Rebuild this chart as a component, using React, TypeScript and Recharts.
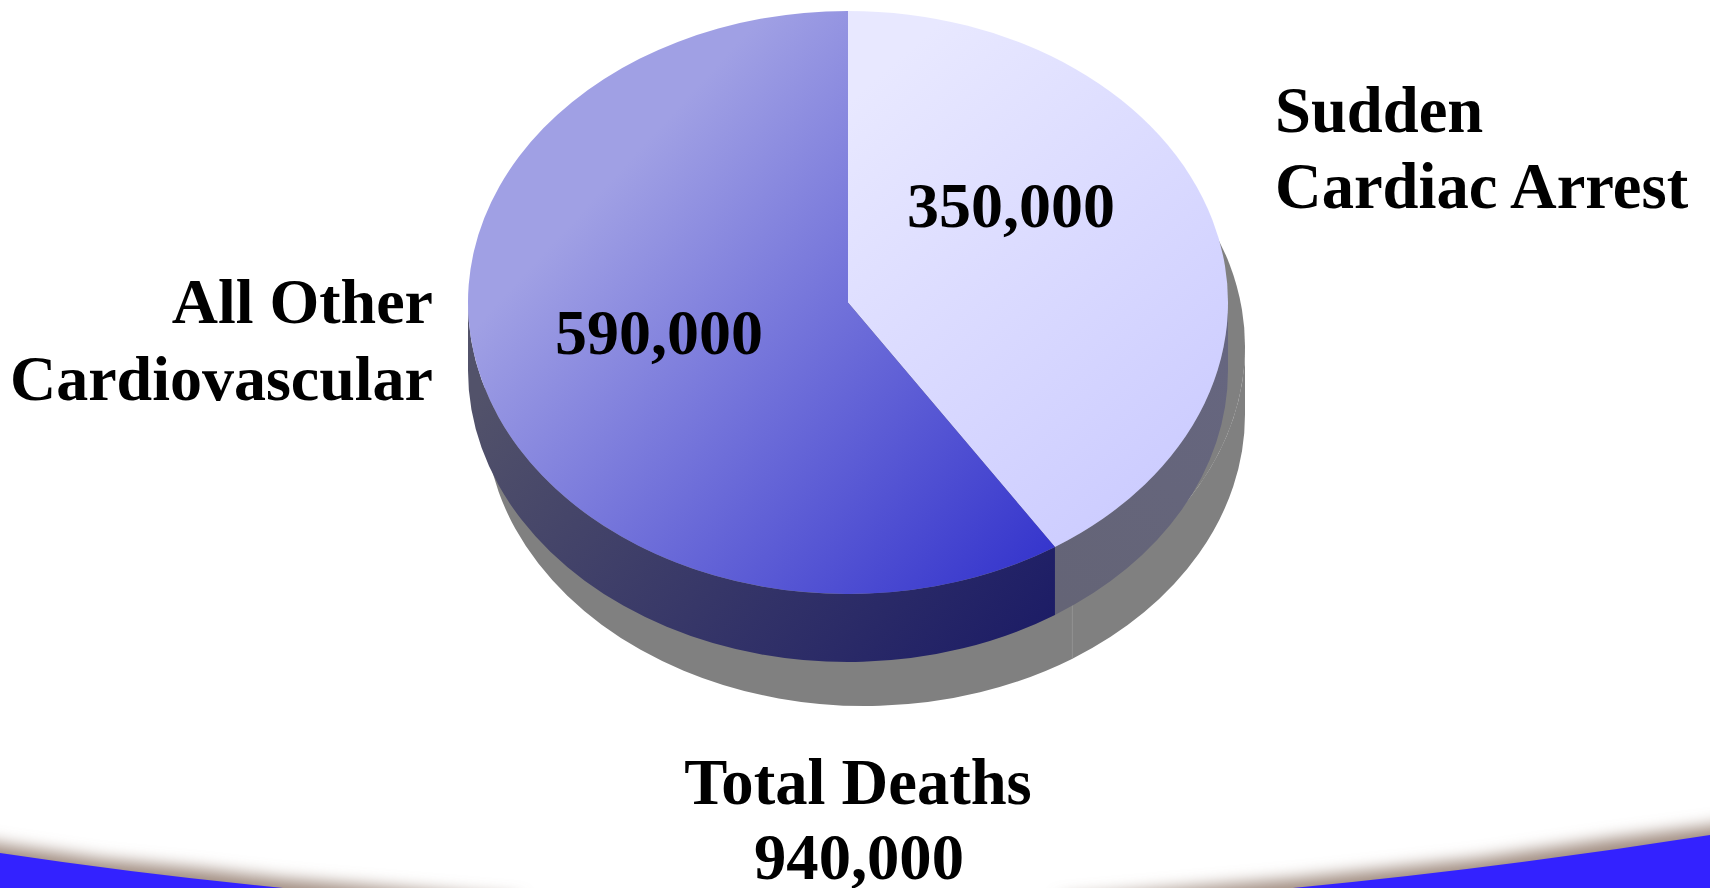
import { PieChart, Pie } from "recharts";

// what the labels say
const categories = ["Sudden Cardiac Arrest", "All Other Cardiovascular"];
const deaths = [350000, 590000];
const totalDeaths = 940000;
const sliceSweep = [147, 213];

const chartData = categories.map((name, i) => ({
  name,
  deaths: deaths[i],
  sweep: sliceSweep[i],
}));

const RX = 380;
const RY = 291.5;
const DEPTH = 68;
const SHADOW_X = 17;
const SHADOW_Y = 44;

const topFills = ["url(#topLight)", "url(#topBlue)"];
const wallFills = ["url(#wallLight)", "url(#wallBlue)"];

const fmt = (v: number) => v.toLocaleString("en-US");

function pt(cx: number, cy: number, a: number) {
  const r = (-a * Math.PI) / 180;
  return [cx + RX * Math.cos(r), cy + RY * Math.sin(r)];
}

function topPath(cx: number, cy: number, a1: number, a2: number) {
  const [x1, y1] = pt(cx, cy, a1);
  const [x2, y2] = pt(cx, cy, a2);
  const large = Math.abs(a1 - a2) > 180 ? 1 : 0;
  return `M${cx},${cy}L${x1},${y1}A${RX},${RY} 0 ${large} 1 ${x2},${y2}Z`;
}

// band under the rim, only the front half of the disc shows
function wallPath(cx: number, cy: number, a1: number, a2: number) {
  const s = Math.min(a1, 0);
  const e = Math.max(a2, -180);
  const [x1, y1] = pt(cx, cy, s);
  const [x2, y2] = pt(cx, cy, e);
  return `M${x1},${y1}A${RX},${RY} 0 0 1 ${x2},${y2}L${x2},${y2 + DEPTH}A${RX},${RY} 0 0 0 ${x1},${y1 + DEPTH}Z`;
}

function TopSlice(p: any) {
  return <path d={topPath(p.cx, p.cy, p.startAngle, p.endAngle)} fill={topFills[p.index]} />;
}

function WallSlice(p: any) {
  return <path d={wallPath(p.cx, p.cy, p.startAngle, p.endAngle)} fill={wallFills[p.index]} />;
}

function ShadowSlice(p: any) {
  const cx = p.cx + SHADOW_X;
  const cy = p.cy + SHADOW_Y;
  const [sx, sy] = pt(cx, cy, p.endAngle);
  return (
    <g>
      <path d={topPath(cx, cy, p.startAngle, p.endAngle)} fill="#808080" />
      <path d={wallPath(cx, cy, p.startAngle, p.endAngle)} fill="#808080" />
      {p.index === 0 && <line x1={sx} y1={sy} x2={sx} y2={sy + DEPTH} stroke="#a0a0a0" strokeWidth={1} />}
    </g>
  );
}

const textStyle = { fontFamily: "Liberation Serif", fontWeight: 700, fontSize: 64.6, fill: "#000" };

export default function App() {
  return (
    <div style={{ position: "absolute", left: 0, top: 0, width: 1710, height: 888, overflow: "hidden", background: "#fff" }}>
      <svg width={1710} height={888} style={{ position: "absolute", left: 0, top: 0 }}>
        <defs>
          <filter id="soft" x="-5%" y="-100%" width="110%" height="300%">
            <feGaussianBlur stdDeviation="8" />
          </filter>
        </defs>
        <g filter="url(#soft)" transform="translate(0,-9)" fill="#a08c80">
          <path d="M-40,845 L0,853 L100,868 L200,878 L283,888 L520,908 L520,960 L-40,960 Z" />
          <path d="M1060,908 L1293,888 L1477,868 L1610,848 L1710,835 L1750,828 L1750,960 L1060,960 Z" />
        </g>
        <path d="M0,853 Q140,874 283,888 L0,888 Z" fill="#3322ff" />
        <path d="M1293,888 Q1500,868 1710,835 L1710,888 Z" fill="#3322ff" />
      </svg>
      <div style={{ position: "absolute", left: 0, top: 0 }}>
        <PieChart width={1710} height={888} margin={{ top: 0, right: 0, bottom: 0, left: 0 }} accessibilityLayer={false}>
          <defs>
            <linearGradient id="topBlue" gradientUnits="userSpaceOnUse" x1={620} y1={170} x2={1054} y2={570}>
              <stop offset="0%" stopColor="#a0a0e4" />
              <stop offset="100%" stopColor="#3333cc" />
            </linearGradient>
            <linearGradient id="topLight" gradientUnits="userSpaceOnUse" x1={850} y1={100} x2={1180} y2={480}>
              <stop offset="0%" stopColor="#e8e8ff" />
              <stop offset="100%" stopColor="#ccccff" />
            </linearGradient>
            <linearGradient id="wallBlue" gradientUnits="userSpaceOnUse" x1={520} y1={340} x2={1000} y2={700}>
              <stop offset="0%" stopColor="#52526a" />
              <stop offset="100%" stopColor="#1c1c66" />
            </linearGradient>
            <linearGradient id="wallLight" gradientUnits="userSpaceOnUse" x1={1054} y1={600} x2={1228} y2={340}>
              <stop offset="0%" stopColor="#646476" />
              <stop offset="100%" stopColor="#666680" />
            </linearGradient>
          </defs>
          <Pie data={chartData} dataKey="sweep" cx={848} cy={302.5} outerRadius={RX} startAngle={90} endAngle={-270}
            stroke="none" isAnimationActive={false} shape={ShadowSlice} />
          <Pie data={chartData} dataKey="sweep" cx={848} cy={302.5} outerRadius={RX} startAngle={90} endAngle={-270}
            stroke="none" isAnimationActive={false} shape={WallSlice} />
          <Pie data={chartData} dataKey="sweep" cx={848} cy={302.5} outerRadius={RX} startAngle={90} endAngle={-270}
            stroke="none" isAnimationActive={false} shape={TopSlice} />
        </PieChart>
      </div>
      <svg width={1710} height={888} style={{ position: "absolute", left: 0, top: 0 }}>
        <g style={textStyle}>
          <text x={1275} y={132}>Sudden</text>
          <text x={1275} y={208}>Cardiac Arrest</text>
          <text x={907} y={227} fontSize={64}>{fmt(deaths[0])}</text>
          <text x={555} y={354} fontSize={64}>{fmt(deaths[1])}</text>
          <text x={433} y={323} textAnchor="end" style={{ fontSize: 64 }}>All Other</text>
          <text x={433} y={400} textAnchor="end" style={{ fontSize: 64 }}>Cardiovascular</text>
          <text x={858} y={804} textAnchor="middle">Total Deaths</text>
          <text x={859} y={879} textAnchor="middle">{fmt(totalDeaths)}</text>
        </g>
      </svg>
    </div>
  );
}
